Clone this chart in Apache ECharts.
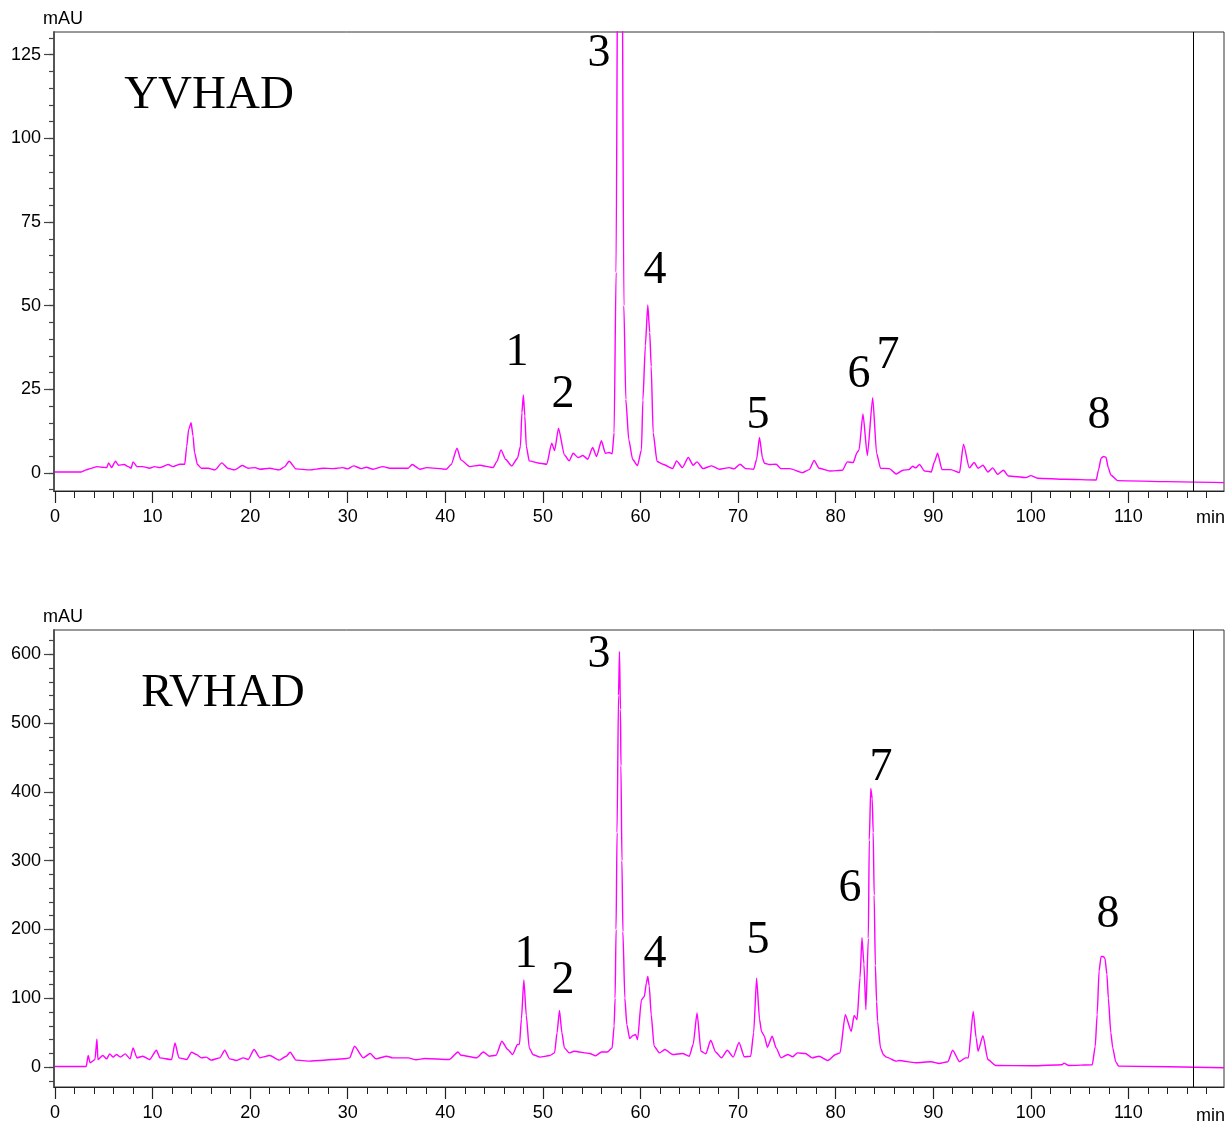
<!DOCTYPE html>
<html><head><meta charset="utf-8">
<script src="https://cdn.jsdelivr.net/npm/echarts@6/dist/echarts.min.js"></script>
<style>html,body{margin:0;padding:0;background:#fff}#c{width:1227px;height:1122px}</style>
</head><body><div id="c"></div>
<script>
// ---------- DATA ----------
const sampleNames = ['YVHAD', 'RVHAD'];
const peakNames = ['1', '2', '3', '4', '5', '6', '7', '8'];
const xTickLabels = [0, 10, 20, 30, 40, 50, 60, 70, 80, 90, 100, 110];
const yvTickLabels = [0, 25, 50, 75, 100, 125];
const rvTickLabels = [0, 100, 200, 300, 400, 500, 600];
const stopTime = 116.7;

const yvTime = [0.0,2.7,3.2,3.6,4.3,4.8,5.3,5.5,5.8,6.2,6.5,7.1,7.5,7.8,8.0,8.4,9.0,9.7,10.2,10.75,11.6,12.1,12.8,13.3,13.5,13.7,13.95,14.15,14.3,14.6,15.0,15.7,16.4,17.1,17.7,18.4,19.2,19.8,20.5,21.0,22.0,23.0,23.5,24.0,24.7,26.1,27.5,28.5,29.5,30.0,30.6,31.4,31.9,32.6,33.6,34.3,36.2,36.6,37.4,38.1,40.1,40.6,41.2,41.6,42.5,43.5,44.9,45.3,45.7,46.2,46.8,47.4,47.7,47.85,48.0,48.15,48.3,48.6,49.7,50.4,50.9,51.2,51.6,52.2,52.7,53.1,53.6,54.1,54.6,55.1,55.5,56.0,56.4,56.8,57.1,57.3,57.5,57.7,57.9,58.1,58.3,58.5,58.8,59.2,59.7,60.1,60.25,60.5,60.75,60.95,61.1,61.3,61.7,62.3,63.3,63.7,64.3,64.9,65.4,65.8,66.4,67.3,68.1,69.1,69.6,70.2,70.8,71.6,71.9,72.2,72.5,72.7,73.2,73.9,74.4,75.3,76.6,77.3,77.8,78.3,79.4,80.7,81.2,81.8,82.2,82.4,82.8,83.25,83.8,84.2,84.6,85.5,86.2,86.9,87.5,87.9,88.2,88.6,89.1,89.8,90.1,90.45,90.9,91.8,92.7,93.1,93.7,94.2,94.6,95.1,95.6,96.1,96.6,97.2,97.7,99.5,100.0,100.7,103.5,106.7,106.95,107.2,107.45,107.7,107.95,108.2,108.9,114.0,119.8];
const yvAbs = [0.3,0.3,0.9,1.3,1.9,1.7,1.6,3.0,1.6,3.5,2.3,2.5,1.9,1.4,3.3,1.9,1.9,1.4,1.9,1.6,2.5,1.9,2.6,2.6,7.9,13,15.0,11,6.2,2.5,1.4,1.4,0.9,3.0,1.4,0.9,2.2,1.4,1.6,1.1,1.4,0.9,1.8,3.5,1.2,0.9,1.4,1.3,1.6,1.2,2.1,1.3,1.7,1.1,1.9,1.4,1.4,2.5,1.1,1.6,1.1,2.5,7.4,3.9,1.9,2.3,1.6,3.5,6.9,4.0,2.1,4.4,8.0,18,23.3,17,8.0,3.6,2.9,2.6,8.9,6.7,13.4,5.4,3.6,5.9,4.6,5.2,4.1,7.6,4.9,9.6,5.9,6.1,5.7,12,60,180,260,170,50,22,10,4,2.2,6.9,21.8,38,50.2,42,31.8,12,3.4,2.6,1.3,3.6,1.6,4.6,2.3,3.3,1.3,2.1,1.1,1.6,1.2,2.6,1.3,1.1,4,10.6,4.5,2.9,2.5,2.6,1.3,1.3,0.1,1.0,3.7,1.4,0.6,0.8,3.3,3.1,6.1,6.9,17.6,5.2,22.5,5.9,1.4,1.3,-0.3,0.8,1.0,2.0,1.5,2.5,0.6,0.3,3.1,5.9,1.0,1.0,0.1,8.6,1.5,3.1,1.4,2.3,0.3,1.5,-0.4,0.8,-0.9,-1.4,-0.8,-1.6,-1.9,-2.1,1.0,4.4,4.9,4.7,1.5,-0.6,-2.3,-2.6,-2.9];

const rvTime = [0.0,3.2,3.4,3.6,4.1,4.3,4.4,4.9,5.3,5.6,5.97,6.3,6.7,7.2,7.7,8.0,8.4,9.0,9.7,10.4,10.75,11.95,12.3,12.7,13.5,14.0,14.5,15.0,15.5,16.0,16.9,17.4,17.9,18.6,19.3,19.8,20.4,21.0,22.0,23.0,23.7,24.1,24.7,26.1,27.1,28.5,29.9,30.2,30.7,31.6,32.3,32.9,34.0,34.6,36.2,37.0,37.9,40.4,41.3,41.6,43.2,43.9,44.5,45.2,45.8,46.4,46.9,47.4,47.6,47.8,48.05,48.3,48.6,49.0,49.7,50.7,51.2,51.45,51.7,51.95,52.2,52.7,53.2,54.8,55.4,56.0,56.6,57.1,57.3,57.4,57.5,57.6,57.75,57.85,57.95,58.0,58.1,58.2,58.4,58.6,58.9,59.2,59.5,59.7,60.1,60.4,60.6,60.75,60.9,61.1,61.4,61.95,62.5,63.3,64.3,65.0,65.4,65.8,66.2,66.7,67.2,67.7,68.3,68.9,69.5,70.1,70.65,71.3,71.6,71.9,72.2,72.4,72.7,73.0,73.5,73.9,74.4,75.1,75.6,76.1,76.9,77.6,78.3,79.2,80.0,80.45,80.99,81.6,81.9,82.2,82.5,82.7,82.9,83.1,83.35,83.45,83.6,83.75,83.85,83.95,84.07,84.2,84.3,84.6,84.9,85.2,86.2,86.5,88.2,89.8,90.6,91.5,91.99,92.7,93.3,93.6,94.1,94.4,94.6,95.1,95.6,96.4,100.2,103.2,103.4,103.9,106.3,106.6,106.8,107.0,107.2,107.4,107.6,107.8,107.95,108.2,108.4,108.7,109.0,119.8];
const rvAbs = [0.9,0.9,16.8,6.2,11,41,11,16.8,12,19.3,14.5,18.3,14.5,19.3,12,28,13.5,15.9,11,24.5,13.5,11,35,13.5,11,21.6,18.3,13.5,14.5,10.1,13.5,24.5,12,9.6,13.5,11,25.5,13.5,16.8,10.1,15.9,21.6,10.1,8.7,9.6,11,12.5,13.5,30.4,13.5,19.8,12,15.9,13.5,13.5,10.6,12.5,11,22,17.3,13.5,22,15.9,17.3,37.6,25.5,18.3,32.8,33,70,126.8,75,28,18,14.5,16.8,20.7,50,82.4,50,28,20.7,23.1,19.8,16.4,22,22,28,60,100,200,341,540,604,520,438,300,197,100,62,41.4,45.8,47.5,39.8,97.8,102.6,122,131.6,118,76.1,30.4,20.7,25.5,18.3,19.8,15.9,32.8,78.6,23.1,19.3,39,22,13.5,24.5,14.5,35.7,15,15.9,50,129.2,70,52,44.9,28.9,44.9,28,13.5,18.3,15,20.7,19.8,13.5,15.9,9.6,18.3,20.7,76.1,52,75.2,68.9,130,188,150,83.4,187,330,405,390,341,250,148,95,66.5,28,18,14.5,8.7,9.6,6.3,7.7,5.3,7.7,24.5,7.7,13.5,13.5,81,42.5,23.1,45.8,11,2.4,1.9,3.4,5.8,2.4,3.4,30,76.1,140,160.6,161,158.2,135,100,50,28,8,1.4,-1];

// ---------- LAYOUT / STYLE (not data) ----------
const LINE_COLOR = '#ff00ff';
const SANS = "'Liberation Sans', Arial, sans-serif";
const SERIF = "'Liberation Serif', 'Times New Roman', serif";
const grids = [
  {left: 54, top: 32, width: 1170, height: 459},
  {left: 54, top: 630, width: 1170, height: 459}
];
const yRanges = [[-5.4, 131.8], [-28.9, 635.3]];
const xRange = [-0.1, 119.8];
const titlePos = [[209, 96], [223, 694]];
const peakLabelPos = [
  [[517,353],[563,395],[599,54],[655,271],[758,416],[859,375],[888,356],[1099,416]],
  [[526,955],[563,981],[599,655],[655,955],[758,941],[850,889],[881,768],[1108,915]]
];

function range(a, b, s) { const r = []; for (let v = a; v <= b + 1e-9; v += s) r.push(+v.toFixed(6)); return r; }
const xMinorTicks = range(0, 118, 2);
const yvMinorTicks = range(-5, 130, 5);
const rvMinorTicks = range(-20, 620, 20);

function zip(t, v) { return t.map((x, i) => [x, v[i]]); }

const chart = echarts.init(document.getElementById('c'), null, {renderer: 'canvas'});

const xAxis = [], yAxis = [], series = [];
[0, 1].forEach(gi => {
  xAxis.push({
    type: 'value', gridIndex: gi, min: xRange[0], max: xRange[1], position: 'bottom',
    axisLine: {show: true, onZero: false, lineStyle: {color: '#222', width: 1.2}},
    axisTick: {show: true, length: 12, customValues: xTickLabels, lineStyle: {color: '#222', width: 1.2}},
    axisLabel: {show: true, customValues: xTickLabels, margin: 17, fontSize: 18, color: '#000', fontFamily: SANS},
    splitLine: {show: false}
  });
  xAxis.push({
    type: 'value', gridIndex: gi, min: xRange[0], max: xRange[1], position: 'bottom', offset: 0,
    axisLine: {show: false, onZero: false},
    axisTick: {show: true, length: 7, customValues: xMinorTicks, lineStyle: {color: '#222', width: 1}},
    axisLabel: {show: false}, splitLine: {show: false}
  });
  const labels = gi === 0 ? yvTickLabels : rvTickLabels;
  const minors = gi === 0 ? yvMinorTicks : rvMinorTicks;
  yAxis.push({
    type: 'value', gridIndex: gi, min: yRanges[gi][0], max: yRanges[gi][1], position: 'left',
    axisLine: {show: true, onZero: false, lineStyle: {color: '#555', width: 2}},
    axisTick: {show: true, length: 10, customValues: labels, lineStyle: {color: '#444', width: 1.2}},
    axisLabel: {show: true, customValues: labels, margin: 13, fontSize: 18, color: '#000', fontFamily: SANS},
    splitLine: {show: false}
  });
  yAxis.push({
    type: 'value', gridIndex: gi, min: yRanges[gi][0], max: yRanges[gi][1], position: 'left', offset: 0,
    axisLine: {show: false, onZero: false},
    axisTick: {show: true, length: 5, customValues: minors, lineStyle: {color: '#444', width: 1.2}},
    axisLabel: {show: false}, splitLine: {show: false}
  });
  series.push({
    type: 'line', name: sampleNames[gi], xAxisIndex: gi * 2, yAxisIndex: gi * 2,
    data: gi === 0 ? zip(yvTime, yvAbs) : zip(rvTime, rvAbs),
    showSymbol: false, symbol: 'none', clip: true, animation: false,
    smooth: 0.2, smoothMonotone: 'x',
    lineStyle: {color: LINE_COLOR, width: 1.4},
    markLine: {
      silent: true, symbol: 'none', animation: false,
      label: {show: false},
      lineStyle: {color: '#000', type: 'solid', width: 1},
      data: [{xAxis: stopTime}]
    }
  });
});

const graphic = [];
[0, 1].forEach(gi => {
  const g = grids[gi];
  graphic.push({type: 'text', left: 43, top: g.top - 22, style: {text: 'mAU', font: '18px ' + SANS, fill: '#000'}});
  graphic.push({type: 'text', left: 1196, top: g.top + g.height + 18, style: {text: 'min', font: '18px ' + SANS, fill: '#000'}});
  graphic.push({type: 'text', x: titlePos[gi][0], y: titlePos[gi][1],
    style: {text: sampleNames[gi], font: '47px ' + SERIF, fill: '#000', align: 'center', verticalAlign: 'middle'}});
  peakLabelPos[gi].forEach((p, i) => {
    graphic.push({type: 'text', x: p[0], y: p[1],
      style: {text: peakNames[i], font: '46px ' + SERIF, fill: '#000', align: 'center', verticalAlign: 'middle'}});
  });
});

chart.setOption({
  animation: false,
  backgroundColor: '#fff',
  grid: grids.map(g => Object.assign({show: true, borderColor: '#333', borderWidth: 1, backgroundColor: 'transparent', containLabel: false}, g)),
  xAxis, yAxis, series, graphic
});
</script>
</body></html>
